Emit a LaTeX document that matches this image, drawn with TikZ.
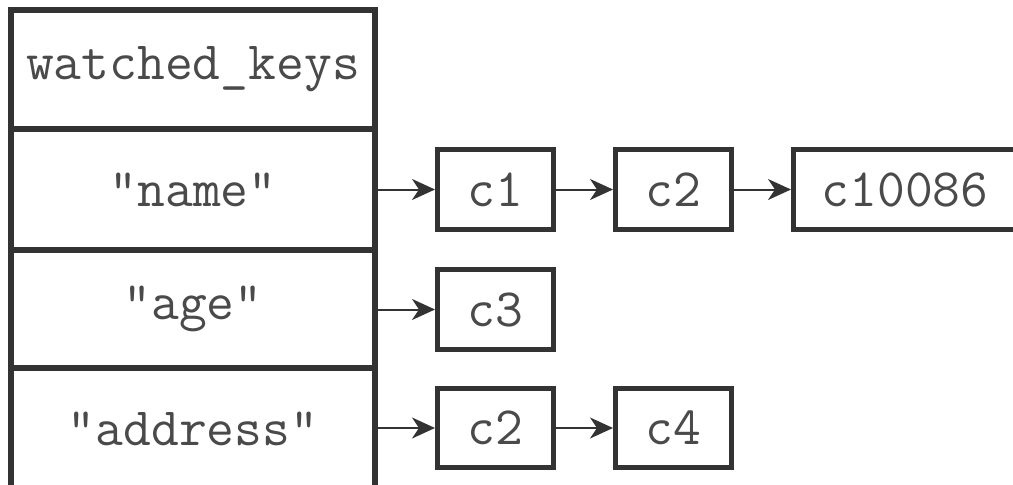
\documentclass[tikz,border=0pt]{standalone}
\usepackage{fontspec}
\usetikzlibrary{arrows.meta}
\definecolor{ink}{HTML}{333333}
\definecolor{txt}{HTML}{4A4A4A}
\begin{document}
\begin{tikzpicture}[x=1pt,y=-1pt,
  keybox/.style={draw=ink,line width=5.5pt,minimum width=364pt,inner sep=0pt,
    font=\fontsize{54}{58}\selectfont\ttfamily,text=txt},
  cbox/.style={draw=ink,line width=5pt,minimum height=80pt,inner sep=0pt,
    font=\fontsize{54}{58}\selectfont\ttfamily,text=txt},
  link/.style={draw=ink,line width=2pt,-{Stealth[length=23pt,width=21pt,inset=7pt]}}]
\useasboundingbox (0,0) rectangle (1013,485);
\clip (0,0) rectangle (1013,485);
\fill[white] (0,0) rectangle (1013,485);
% key table
\node[keybox,minimum height=119pt] (wk) at (193,69.5) {watched\_keys};
\node[keybox,minimum height=121pt] (kname) at (193,189.5) {"name"};
\node[keybox,minimum height=118pt] (kage) at (193,309) {"age"};
\node[keybox,minimum height=122pt] (kaddr) at (193,429) {"address"};
% clients
\node[cbox,minimum width=116pt] (c1) at (495.5,189.5) {c1};
\node[cbox,minimum width=116pt] (c2a) at (673.5,189.5) {c2};
\node[cbox,minimum width=223pt] (c10086) at (905,189.5) {c10086};
\node[cbox,minimum width=116pt] (c3) at (495.5,309.5) {c3};
\node[cbox,minimum width=116pt,minimum height=79pt] (c2b) at (495.5,428) {c2};
\node[cbox,minimum width=116pt,minimum height=79pt] (c4) at (673.5,428) {c4};
% links
\draw[link] (kname.east) -- (c1.west);
\draw[link] (c1.east) -- (c2a.west);
\draw[link] (c2a.east) -- (c10086.west);
\draw[link] (kage.east |- c3.west) -- (c3.west);
\draw[link] (kaddr.east |- c2b.west) -- (c2b.west);
\draw[link] (c2b.east) -- (c4.west);
\end{tikzpicture}
\end{document}
